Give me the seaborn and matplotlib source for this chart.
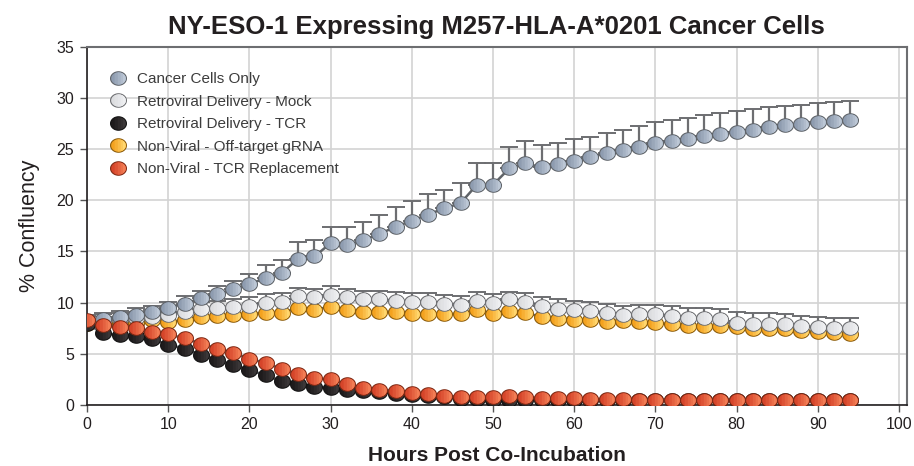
import numpy as np
import pandas as pd
import matplotlib
matplotlib.use("Agg")
import matplotlib.pyplot as plt
from matplotlib.path import Path
from matplotlib.lines import Line2D
from matplotlib.legend_handler import HandlerTuple
from matplotlib.colors import to_rgb
import seaborn as sns

# Time points (hours) and % confluency for each condition
hours = list(range(0, 96, 2))

cancer_only = [8.1, 8.4, 8.6, 8.8, 9.1, 9.5, 9.9, 10.4, 10.8, 11.3, 11.8, 12.4,
               12.9, 14.3, 14.5, 15.8, 15.6, 16.1, 16.7, 17.4, 18.0, 18.6, 19.2, 19.7,
               21.5, 21.5, 23.1, 23.6, 23.2, 23.5, 23.8, 24.2, 24.6, 24.9, 25.2, 25.6,
               25.8, 26.0, 26.3, 26.5, 26.7, 26.9, 27.1, 27.3, 27.4, 27.6, 27.7, 27.8]
cancer_only_err = [0.6, 0.6, 0.6, 0.7, 0.6, 0.6, 0.7, 0.7, 0.8, 0.8, 1.0, 1.3,
                   1.3, 1.6, 1.6, 1.6, 1.8, 1.8, 1.9, 1.9, 1.9, 2.0, 1.8, 2.0,
                   2.1, 2.1, 2.1, 2.2, 2.2, 2.1, 2.2, 2.0, 2.0, 2.0, 2.0, 2.0,
                   2.0, 2.0, 2.0, 2.0, 2.0, 2.0, 2.0, 1.9, 1.9, 1.9, 1.9, 1.9]

mock = [8.2, 8.3, 8.4, 8.5, 8.6, 8.8, 9.1, 9.4, 9.5, 9.6, 9.7, 10.0,
        10.1, 10.6, 10.5, 10.7, 10.5, 10.3, 10.3, 10.2, 10.1, 10.1, 9.9, 9.8,
        10.2, 10.0, 10.3, 10.1, 9.7, 9.4, 9.3, 9.2, 9.0, 8.8, 8.9, 8.9,
        8.7, 8.5, 8.5, 8.4, 8.0, 7.9, 7.9, 7.9, 7.7, 7.6, 7.5, 7.5]
mock_err = [0.6, 0.6, 0.6, 0.6, 0.7, 0.7, 0.7, 0.7, 0.7, 0.7, 0.8, 0.8,
            0.8, 0.8, 0.8, 0.9, 0.8, 0.8, 0.8, 0.8, 0.8, 0.8, 0.8, 0.8,
            0.8, 0.8, 0.7, 0.8, 0.8, 0.9, 0.9, 0.9, 0.9, 0.9, 0.9, 0.9,
            1.0, 1.0, 1.0, 1.0, 1.1, 1.1, 1.1, 1.0, 1.0, 1.0, 1.0, 1.0]

retro_tcr = [7.9, 7.0, 6.8, 6.7, 6.4, 5.9, 5.5, 4.9, 4.4, 3.9, 3.4, 2.9,
             2.3, 2.0, 1.8, 1.7, 1.5, 1.4, 1.3, 1.1, 1.0, 0.9, 0.8, 0.6,
             0.6, 0.5, 0.5, 0.5, 0.5, 0.5, 0.5, 0.5, 0.5, 0.5, 0.5, 0.5,
             0.45, 0.45, 0.45, 0.45, 0.45, 0.45, 0.45, 0.45, 0.45, 0.45, 0.45, 0.45]

off_target = [7.9, 7.8, 8.0, 8.0, 8.3, 8.1, 8.3, 8.6, 8.7, 8.8, 8.9, 9.0,
              9.0, 9.5, 9.3, 9.6, 9.3, 9.1, 9.1, 9.1, 8.9, 8.9, 8.9, 8.9,
              9.3, 8.9, 9.2, 9.0, 8.6, 8.4, 8.3, 8.3, 8.1, 8.2, 8.1, 8.0,
              7.9, 7.7, 7.7, 7.7, 7.6, 7.4, 7.4, 7.4, 7.2, 7.1, 7.0, 6.9]

tcr_replacement = [8.3, 7.8, 7.6, 7.5, 7.1, 6.9, 6.5, 6.0, 5.5, 5.1, 4.5, 4.1,
                   3.5, 3.0, 2.6, 2.5, 2.0, 1.7, 1.5, 1.4, 1.2, 1.1, 0.9, 0.8,
                   0.8, 0.8, 0.9, 0.8, 0.65, 0.65, 0.65, 0.55, 0.55, 0.55, 0.5, 0.5,
                   0.5, 0.5, 0.5, 0.5, 0.5, 0.5, 0.5, 0.5, 0.5, 0.5, 0.5, 0.5]

labels = ["Cancer Cells Only", "Retroviral Delivery - Mock", "Retroviral Delivery - TCR",
          "Non-Viral - Off-target gRNA", "Non-Viral - TCR Replacement"]
values = [cancer_only, mock, retro_tcr, off_target, tcr_replacement]
errors = [cancer_only_err, mock_err, None, None, None]

# left (shaded) and right (lit) fill colours of each marker, plus outline
shade = ["#8e9cb0", "#dcdde0", "#1e1b1c", "#f4a21f", "#d6452a"]
light = ["#bcc7d5", "#eeeff1", "#3b3738", "#ffd66e", "#f27d55"]
edge = ["#5f6368", "#6d6e71", "#111111", "#8a5c0c", "#7e2a14"]
layer = [4, 3, 5, 2, 6]

df = pd.concat([pd.DataFrame({"hours": hours, "confluency": v, "condition": lab})
                for lab, v in zip(labels, values)], ignore_index=True)

sns.set_theme(style="white")
plt.rcParams["font.family"] = ["Liberation Sans", "DejaVu Sans"]

# slightly wide ellipse marker
ASPECT = 1.18
t = np.linspace(0, 2 * np.pi, 97)
ellipse = Path(np.column_stack([np.cos(t), np.sin(t) / ASPECT]), closed=True)


def lit_part(x0):
    """Part of the ellipse right of x0 (used to build a left-to-right shading)."""
    a = np.arccos(x0)
    tt = np.linspace(-a, a, 61)
    v = np.column_stack([np.cos(tt), np.sin(tt) / ASPECT])
    return Path(np.vstack([v, v[:1]]), closed=True)


cuts = [-0.55, -0.1, 0.3, 0.62]
steps = [lit_part(c) for c in cuts]
msize = 11.4
inner = msize * 0.9


def blend(c1, c2, f):
    a, b = np.array(to_rgb(c1)), np.array(to_rgb(c2))
    return tuple(a + (b - a) * f)


fig = plt.figure(figsize=(9.14, 4.66), dpi=100)
ax = fig.add_axes([0.0949, 0.131, 0.897, 0.769])

for i, lab in enumerate(labels):
    sub = df[df["condition"] == lab]
    z = layer[i] * 10
    if errors[i] is not None:
        ax.errorbar(sub["hours"], sub["confluency"],
                    yerr=[np.zeros(len(sub)), np.array(errors[i])],
                    fmt="none", ecolor="#6d6e71", elinewidth=1.6,
                    capsize=6.5, capthick=1.4, zorder=z)
    sns.lineplot(data=sub, x="hours", y="confluency", ax=ax, color="#5f6368",
                 linewidth=1.8, legend=False, zorder=z + 1, errorbar=None)
    sns.scatterplot(data=sub, x="hours", y="confluency", ax=ax, marker=ellipse,
                    s=msize ** 2, color=shade[i], edgecolor=edge[i], linewidth=0.8,
                    legend=False, zorder=z + 2)
    for k, p in enumerate(steps):
        # path is normalised by its half-width, so the size is the inner width
        sns.scatterplot(data=sub, x="hours", y="confluency", ax=ax, marker=p,
                        s=inner ** 2, color=blend(shade[i], light[i], (k + 1) / len(steps)),
                        linewidth=0, legend=False, zorder=z + 3 + k * 0.1)

ax.set_xlim(-0.05, 100.95)
ax.set_ylim(0, 35)
ax.set_xticks(range(0, 101, 10))
ax.set_yticks(range(0, 36, 5))
ax.grid(True, color="#d3d3d3", linewidth=1.2)
ax.set_axisbelow(True)

for side in ["left", "bottom"]:
    ax.spines[side].set_color("#231f20")
    ax.spines[side].set_linewidth(1.2)
for side in ["top", "right"]:
    ax.spines[side].set_color("#6d6e71")
    ax.spines[side].set_linewidth(1.5)

ax.tick_params(axis="both", which="major", direction="out", length=5, width=1,
               color="#555555", labelsize=11.5, labelcolor="#231f20", pad=4,
               bottom=True, left=True)

ax.set_xlabel("Hours Post Co-Incubation", fontsize=15, fontweight="bold",
              color="#231f20", labelpad=10)
ax.set_ylabel("% Confluency", fontsize=15.5, color="#231f20", labelpad=12)
ax.set_title("NY-ESO-1 Expressing M257-HLA-A*0201 Cancer Cells", fontsize=18.5,
             fontweight="bold", color="#231f20", pad=9)

handles = []
for i in range(len(labels)):
    parts = [Line2D([], [], linestyle="none", marker=ellipse, markersize=msize,
                    markerfacecolor=shade[i], markeredgecolor=edge[i], markeredgewidth=0.8)]
    for k, p in enumerate(steps):
        parts.append(Line2D([], [], linestyle="none", marker=p, markersize=inner,
                            markerfacecolor=blend(shade[i], light[i], (k + 1) / len(steps)),
                            markeredgewidth=0))
    handles.append(tuple(parts))

leg = ax.legend(handles, labels, loc="upper left", bbox_to_anchor=(0.02, 0.945),
                frameon=False, fontsize=11, labelspacing=0.55, handletextpad=0.6,
                handlelength=1.2, borderaxespad=0,
                handler_map={tuple: HandlerTuple(ndivide=1, pad=0)})
for txt in leg.get_texts():
    txt.set_color("#3c3c3c")
leg.set_zorder(100)

fig.savefig("out.png", dpi=100)
